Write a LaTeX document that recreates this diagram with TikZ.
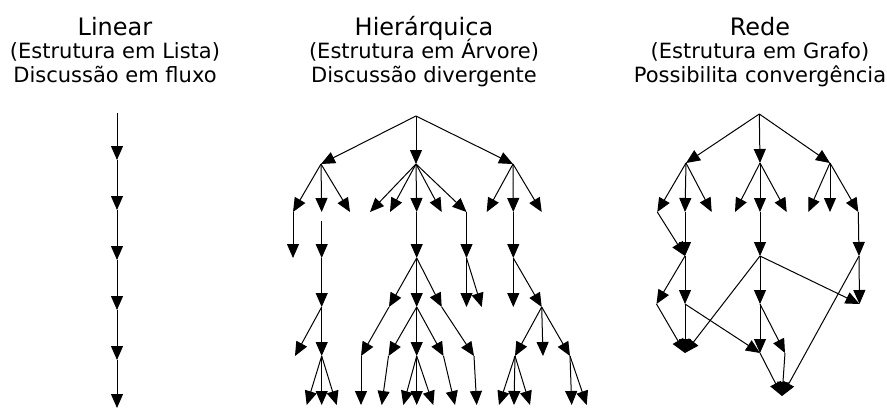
\documentclass[tikz,border=0pt]{standalone}
\usepackage{fontspec}
\setmainfont{DejaVu Sans}
\usetikzlibrary{arrows.meta}
\begin{document}
\begin{tikzpicture}[x=1pt,y=-1pt,
  edge/.style={line width=1pt,-{Triangle[length=14pt,width=12pt]}},
  ttl/.style={anchor=base,inner sep=0pt,font=\fontsize{24}{28}\selectfont},
  sub/.style={anchor=base,inner sep=0pt,font=\fontsize{21}{25}\selectfont}]
\useasboundingbox (0,0) rectangle (887,410);
% titles
\node[ttl] (t1) at (115,35) {Linear};
\node[sub] (s1) at (115,58) {(Estrutura em Lista)};
\node[sub] (d1) at (115,82) {Discussão em fluxo};
\node[ttl] (t2) at (424,35) {Hierárquica};
\node[sub] (s2) at (424,58) {(Estrutura em Árvore)};
\node[sub] (d2) at (424,82) {Discussão divergente};
\node[ttl] (t3) at (760,35) {Rede};
\node[sub] (s3) at (760,58) {(Estrutura em Grafo)};
\node[sub] (d3) at (760,82) {Possibilita convergência};
% linear
\coordinate (l0) at (117,113);
\coordinate (l1) at (117,160);
\coordinate (l2) at (117,210);
\coordinate (l3) at (117,260);
\coordinate (l4) at (117,310);
\coordinate (l5) at (117,360);
\coordinate (l6) at (117,408);
\foreach \a/\b in {l0/l1,l1/l2,l2/l3,l3/l4,l4/l5,l5/l6} \draw[edge] (\a) -- (\b);
% tree
\coordinate (t0) at (416,116);
\coordinate (ta) at (321,164);
\coordinate (tb) at (416,164);
\coordinate (tc) at (513,164);
\coordinate (ta1) at (293,212);
\coordinate (ta2) at (321.7,212);
\coordinate (ta3) at (350,212);
\coordinate (tb1) at (370,212);
\coordinate (tb2) at (390,212);
\coordinate (tb3) at (416.7,212);
\coordinate (tb4) at (441.7,212);
\coordinate (tb5) at (466.5,212);
\coordinate (tc1) at (486.7,212);
\coordinate (tc2) at (513.3,212);
\coordinate (tc3) at (541.7,212);
\coordinate (ta1x) at (293,258);
\coordinate (ta2x) at (321.7,258);
\coordinate (tb3x) at (416.7,258);
\coordinate (tb5x) at (466.5,258);
\coordinate (tc2x) at (513.3,258);
\coordinate (p1) at (321.7,307);
\coordinate (q1) at (389,307);
\coordinate (q2) at (416.7,307);
\coordinate (q3) at (441.7,307);
\coordinate (r1) at (466.5,307);
\coordinate (r2) at (481.7,307);
\coordinate (s1) at (513.3,307);
\coordinate (s2) at (541.7,307);
\coordinate (p11) at (295,356);
\coordinate (p12) at (321.7,356);
\coordinate (q11) at (361,356);
\coordinate (q21) at (388.5,356);
\coordinate (q22) at (416.7,356);
\coordinate (q23) at (443.5,356);
\coordinate (q31) at (474,356);
\coordinate (s21) at (515,356);
\coordinate (s22) at (543,356);
\coordinate (s23) at (570,356);
\coordinate (p121) at (306.7,405);
\coordinate (p122) at (321.7,405);
\coordinate (p123) at (336.7,405);
\coordinate (q111) at (361,405);
\coordinate (q211) at (381.7,405);
\coordinate (q221) at (403.3,405);
\coordinate (q222) at (416.7,405);
\coordinate (q223) at (433.3,405);
\coordinate (q231) at (455,405);
\coordinate (q311) at (476.7,405);
\coordinate (s211) at (499,405);
\coordinate (s212) at (514,405);
\coordinate (s213) at (530,405);
\coordinate (s231) at (571.7,405);
\coordinate (s232) at (586.7,405);
\foreach \a/\b in {t0/ta,t0/tb,t0/tc,ta/ta1,ta/ta2,ta/ta3,tb/tb1,tb/tb2,tb/tb3,tb/tb4,tb/tb5,
  tc/tc1,tc/tc2,tc/tc3,ta1/ta1x,tb3/tb3x,tb5/tb5x,tc2/tc2x,
  ta2x/p1,tb3x/q1,tb3x/q2,tb3x/q3,tb5x/r1,tb5x/r2,tc2x/s1,tc2x/s2,
  p1/p11,p1/p12,q1/q11,q2/q21,q2/q22,q2/q23,q3/q31,s2/s21,s2/s22,s2/s23,
  p12/p121,p12/p122,p12/p123,q11/q111,q21/q211,q22/q221,q22/q222,q22/q223,
  q23/q231,q31/q311,s21/s211,s21/s212,s21/s213,s23/s231,s23/s232}
  \draw[edge] (\a) -- (\b);
\draw[edge,shorten <=9pt] (ta2) -- (ta2x);
% network
\coordinate (n0) at (759.3,114);
\coordinate (na) at (686,163);
\coordinate (nb) at (760,163);
\coordinate (nc) at (830,163);
\coordinate (na1) at (657.3,212);
\coordinate (na2) at (685,212);
\coordinate (na3) at (711.7,212);
\coordinate (nb1) at (735,212);
\coordinate (nb2) at (760,212);
\coordinate (nb3) at (786.7,212);
\coordinate (nc1) at (808.3,212);
\coordinate (nc2) at (830,212);
\coordinate (nc3) at (858.3,212);
\coordinate (m1) at (685,256);
\coordinate (m2) at (760,256);
\coordinate (m3) at (859,256);
\coordinate (k1) at (656.5,304);
\coordinate (k2) at (685,304);
\coordinate (k3) at (760,304);
\coordinate (k4) at (859.5,304);
\coordinate (j1) at (685,353);
\coordinate (j2) at (760,353);
\coordinate (j3) at (785,353);
\coordinate (i1) at (782,396);
\foreach \a/\b in {n0/na,n0/nb,n0/nc,na/na1,na/na2,na/na3,nb/nb1,nb/nb2,nb/nb3,
  nc/nc1,nc/nc2,nc/nc3,na1/m1,na2/m1,nb2/m2,nc3/m3,
  m1/k1,m1/k2,m2/j1,m2/k3,m2/k4,m3/k4,m3/i1,
  k1/j1,k2/j1,k2/j2,k3/j2,k3/j3,j2/i1,j3/i1}
  \draw[edge] (\a) -- (\b);
\end{tikzpicture}
\end{document}
